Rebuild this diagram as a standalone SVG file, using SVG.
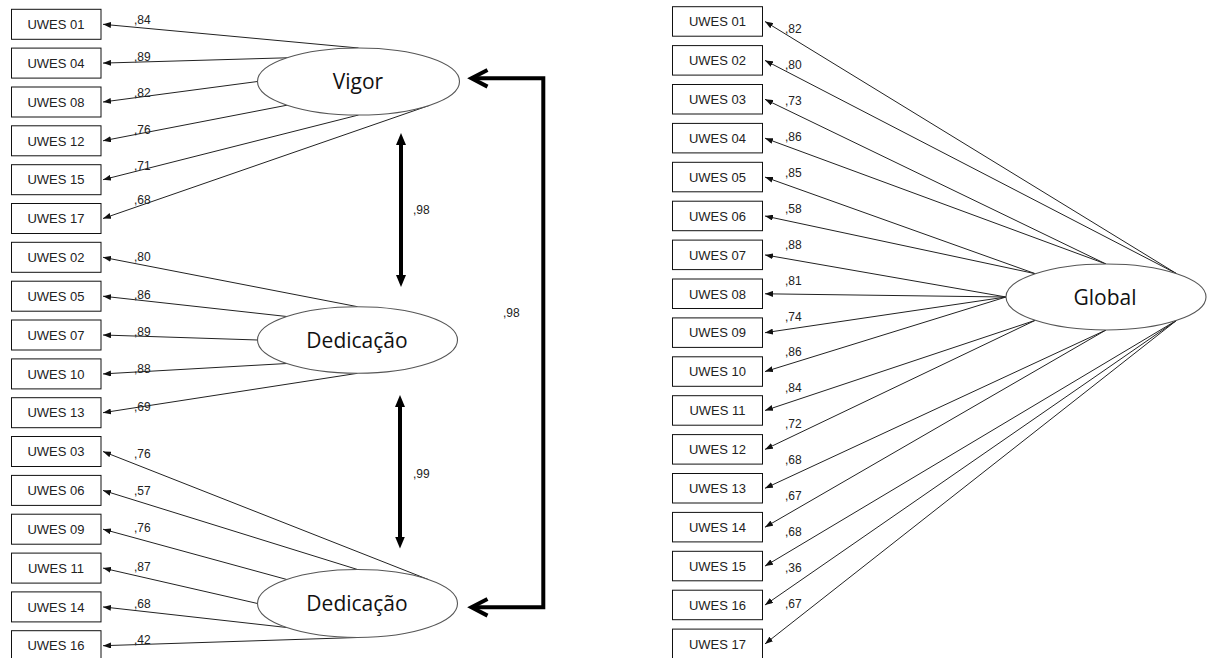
<svg xmlns="http://www.w3.org/2000/svg" width="1207" height="658" viewBox="0 0 1207 658">
<style>
.box{fill:#fff;stroke:#111;stroke-width:1}
.bt{font-family:"Liberation Sans",Arial,sans-serif;font-size:13px;fill:#222;text-anchor:middle}
.lb{font-family:"Liberation Sans",Arial,sans-serif;font-size:12px;fill:#222}
.el{fill:#fff;stroke:#555;stroke-width:1.1}
.et{font-family:"Open Sans","Noto Sans",sans-serif;font-size:21px;fill:#111;text-anchor:middle}
.c{stroke:#222;stroke-width:1;fill:none;marker-end:url(#a)}
.th{stroke:#000;stroke-width:4;fill:none}
.dbl{stroke:#000;stroke-width:4;marker-start:url(#t);marker-end:url(#t)}
</style>
<defs>
<marker id="a" viewBox="0 0 8 6" refX="8" refY="3" markerWidth="8" markerHeight="6" orient="auto" markerUnits="userSpaceOnUse"><path d="M0,0 L8,3 L0,6 z" fill="#111"/></marker>
<marker id="t" viewBox="0 0 12 10" refX="2" refY="5" markerWidth="12" markerHeight="10" orient="auto-start-reverse" markerUnits="userSpaceOnUse"><path d="M0,0 L12,5 L0,10 z" fill="#000"/></marker>
</defs>
<rect width="1207" height="658" fill="#fff"/>

<g id="connectors">
<!-- Vigor -->
<line class="c" x1="358.5" y1="48" x2="103" y2="24.3"/>
<line class="c" x1="287" y1="57.8" x2="103" y2="63.1"/>
<line class="c" x1="257.5" y1="81.5" x2="103" y2="102"/>
<line class="c" x1="287" y1="105.2" x2="103" y2="140.8"/>
<line class="c" x1="358.5" y1="115" x2="103" y2="179.7"/>
<line class="c" x1="430" y1="105.2" x2="103" y2="218.5"/>
<!-- Dedicacao middle -->
<line class="c" x1="357.5" y1="306.7" x2="103" y2="257.3"/>
<line class="c" x1="286.8" y1="316.5" x2="103" y2="296.2"/>
<line class="c" x1="257.5" y1="340" x2="103" y2="335"/>
<line class="c" x1="286.8" y1="363.5" x2="103" y2="373.9"/>
<line class="c" x1="357.5" y1="373.3" x2="103" y2="412.7"/>
<!-- Dedicacao bottom -->
<line class="c" x1="428.2" y1="579.5" x2="103" y2="451.5"/>
<line class="c" x1="357.5" y1="569.5" x2="103" y2="490.4"/>
<line class="c" x1="286.8" y1="579.5" x2="103" y2="529.2"/>
<line class="c" x1="257.5" y1="603.5" x2="103" y2="568.1"/>
<line class="c" x1="286.8" y1="627.5" x2="103" y2="606.9"/>
<line class="c" x1="357.5" y1="637.5" x2="103" y2="645.7"/>
<!-- Global -->
<line class="c" x1="1176.7" y1="273.7" x2="765" y2="21.5"/>
<line class="c" x1="1176.7" y1="273.7" x2="765" y2="60.4"/>
<line class="c" x1="1106" y1="264" x2="765" y2="99.3"/>
<line class="c" x1="1106" y1="264" x2="765" y2="138.2"/>
<line class="c" x1="1035.3" y1="273.7" x2="765" y2="177.1"/>
<line class="c" x1="1035.3" y1="273.7" x2="765" y2="216"/>
<line class="c" x1="1006" y1="297" x2="765" y2="254.9"/>
<line class="c" x1="1006" y1="297" x2="765" y2="293.8"/>
<line class="c" x1="1006" y1="297" x2="765" y2="332.7"/>
<line class="c" x1="1006" y1="297" x2="765" y2="371.6"/>
<line class="c" x1="1035.3" y1="320.3" x2="765" y2="410.5"/>
<line class="c" x1="1035.3" y1="320.3" x2="765" y2="449.4"/>
<line class="c" x1="1106" y1="330" x2="765" y2="488.3"/>
<line class="c" x1="1106" y1="330" x2="765" y2="527.2"/>
<line class="c" x1="1176.7" y1="320.3" x2="765" y2="566.1"/>
<line class="c" x1="1176.7" y1="320.3" x2="765" y2="605"/>
<line class="c" x1="1176.7" y1="320.3" x2="765" y2="643.9"/>
<!-- correlations -->
<line class="dbl" x1="401" y1="143" x2="401" y2="277"/>
<line class="dbl" x1="400" y1="405" x2="400" y2="538.5"/>
<path class="th" d="M473,78.3 H543.3 V607.3 H473"/>
<polyline class="th" points="487.5,70 471.5,78.3 487.5,86.6"/>
<polyline class="th" points="487.5,599 471.5,607.3 487.5,615.6"/>
</g>

<g id="loadings-left">
<text class="lb" x="134" y="24">,84</text>
<text class="lb" x="134" y="61">,89</text>
<text class="lb" x="134" y="97">,82</text>
<text class="lb" x="134" y="134">,76</text>
<text class="lb" x="134" y="170">,71</text>
<text class="lb" x="134" y="204">,68</text>
<text class="lb" x="134" y="261">,80</text>
<text class="lb" x="134" y="299">,86</text>
<text class="lb" x="134" y="336">,89</text>
<text class="lb" x="134" y="373">,88</text>
<text class="lb" x="134" y="411">,69</text>
<text class="lb" x="134" y="458">,76</text>
<text class="lb" x="134" y="495">,57</text>
<text class="lb" x="134" y="532">,76</text>
<text class="lb" x="134" y="571">,87</text>
<text class="lb" x="134" y="608">,68</text>
<text class="lb" x="134" y="644">,42</text>
<text class="lb" x="413" y="214">,98</text>
<text class="lb" x="413" y="478">,99</text>
<text class="lb" x="503" y="317">,98</text>
</g>

<g id="loadings-right">
<text class="lb" x="785" y="33">,82</text>
<text class="lb" x="785" y="69">,80</text>
<text class="lb" x="785" y="105">,73</text>
<text class="lb" x="785" y="141">,86</text>
<text class="lb" x="785" y="177">,85</text>
<text class="lb" x="785" y="213">,58</text>
<text class="lb" x="785" y="249">,88</text>
<text class="lb" x="785" y="285">,81</text>
<text class="lb" x="785" y="321">,74</text>
<text class="lb" x="785" y="356">,86</text>
<text class="lb" x="785" y="392">,84</text>
<text class="lb" x="785" y="428">,72</text>
<text class="lb" x="785" y="464">,68</text>
<text class="lb" x="785" y="500">,67</text>
<text class="lb" x="785" y="536">,68</text>
<text class="lb" x="785" y="572">,36</text>
<text class="lb" x="785" y="608">,67</text>
</g>

<g id="L01"><rect class="box" x="11.5" y="9.3" width="89.5" height="30"/><text class="bt" x="56" y="29">UWES 01</text></g>
<g id="L04"><rect class="box" x="11.5" y="48.1" width="89.5" height="30"/><text class="bt" x="56" y="67.8">UWES 04</text></g>
<g id="L08"><rect class="box" x="11.5" y="87" width="89.5" height="30"/><text class="bt" x="56" y="106.7">UWES 08</text></g>
<g id="L12"><rect class="box" x="11.5" y="125.8" width="89.5" height="30"/><text class="bt" x="56" y="145.5">UWES 12</text></g>
<g id="L15"><rect class="box" x="11.5" y="164.7" width="89.5" height="30"/><text class="bt" x="56" y="184.4">UWES 15</text></g>
<g id="L17"><rect class="box" x="11.5" y="203.5" width="89.5" height="30"/><text class="bt" x="56" y="223.2">UWES 17</text></g>
<g id="L02"><rect class="box" x="11.5" y="242.3" width="89.5" height="30"/><text class="bt" x="56" y="262">UWES 02</text></g>
<g id="L05"><rect class="box" x="11.5" y="281.2" width="89.5" height="30"/><text class="bt" x="56" y="300.9">UWES 05</text></g>
<g id="L07"><rect class="box" x="11.5" y="320" width="89.5" height="30"/><text class="bt" x="56" y="339.7">UWES 07</text></g>
<g id="L10"><rect class="box" x="11.5" y="358.9" width="89.5" height="30"/><text class="bt" x="56" y="378.6">UWES 10</text></g>
<g id="L13"><rect class="box" x="11.5" y="397.7" width="89.5" height="30"/><text class="bt" x="56" y="417.4">UWES 13</text></g>
<g id="L03"><rect class="box" x="11.5" y="436.5" width="89.5" height="30"/><text class="bt" x="56" y="456.2">UWES 03</text></g>
<g id="L06"><rect class="box" x="11.5" y="475.4" width="89.5" height="30"/><text class="bt" x="56" y="495.1">UWES 06</text></g>
<g id="L09"><rect class="box" x="11.5" y="514.2" width="89.5" height="30"/><text class="bt" x="56" y="533.9">UWES 09</text></g>
<g id="L11"><rect class="box" x="11.5" y="553.1" width="89.5" height="30"/><text class="bt" x="56" y="572.8">UWES 11</text></g>
<g id="L14"><rect class="box" x="11.5" y="591.9" width="89.5" height="30"/><text class="bt" x="56" y="611.6">UWES 14</text></g>
<g id="L16"><rect class="box" x="11.5" y="630.7" width="89.5" height="30"/><text class="bt" x="56" y="650.4">UWES 16</text></g>

<g id="R01"><rect class="box" x="672.5" y="6.7" width="90" height="29.5"/><text class="bt" x="717.5" y="26.2">UWES 01</text></g>
<g id="R02"><rect class="box" x="672.5" y="45.6" width="90" height="29.5"/><text class="bt" x="717.5" y="65.1">UWES 02</text></g>
<g id="R03"><rect class="box" x="672.5" y="84.5" width="90" height="29.5"/><text class="bt" x="717.5" y="104">UWES 03</text></g>
<g id="R04"><rect class="box" x="672.5" y="123.4" width="90" height="29.5"/><text class="bt" x="717.5" y="142.9">UWES 04</text></g>
<g id="R05"><rect class="box" x="672.5" y="162.3" width="90" height="29.5"/><text class="bt" x="717.5" y="181.8">UWES 05</text></g>
<g id="R06"><rect class="box" x="672.5" y="201.2" width="90" height="29.5"/><text class="bt" x="717.5" y="220.7">UWES 06</text></g>
<g id="R07"><rect class="box" x="672.5" y="240.1" width="90" height="29.5"/><text class="bt" x="717.5" y="259.6">UWES 07</text></g>
<g id="R08"><rect class="box" x="672.5" y="279" width="90" height="29.5"/><text class="bt" x="717.5" y="298.5">UWES 08</text></g>
<g id="R09"><rect class="box" x="672.5" y="317.9" width="90" height="29.5"/><text class="bt" x="717.5" y="337.4">UWES 09</text></g>
<g id="R10"><rect class="box" x="672.5" y="356.8" width="90" height="29.5"/><text class="bt" x="717.5" y="376.3">UWES 10</text></g>
<g id="R11"><rect class="box" x="672.5" y="395.7" width="90" height="29.5"/><text class="bt" x="717.5" y="415.2">UWES 11</text></g>
<g id="R12"><rect class="box" x="672.5" y="434.6" width="90" height="29.5"/><text class="bt" x="717.5" y="454.1">UWES 12</text></g>
<g id="R13"><rect class="box" x="672.5" y="473.5" width="90" height="29.5"/><text class="bt" x="717.5" y="493">UWES 13</text></g>
<g id="R14"><rect class="box" x="672.5" y="512.4" width="90" height="29.5"/><text class="bt" x="717.5" y="531.9">UWES 14</text></g>
<g id="R15"><rect class="box" x="672.5" y="551.3" width="90" height="29.5"/><text class="bt" x="717.5" y="570.8">UWES 15</text></g>
<g id="R16"><rect class="box" x="672.5" y="590.2" width="90" height="29.5"/><text class="bt" x="717.5" y="609.7">UWES 16</text></g>
<g id="R17"><rect class="box" x="672.5" y="629.1" width="90" height="29.5"/><text class="bt" x="717.5" y="648.6">UWES 17</text></g>

<g id="vigor"><ellipse class="el" cx="358.5" cy="81.5" rx="101" ry="33.5"/><text class="et" x="358" y="89">Vigor</text></g>
<g id="dedicacao1"><ellipse class="el" cx="357.5" cy="340" rx="100" ry="33.3"/><text class="et" x="357" y="347.5">Dedicação</text></g>
<g id="dedicacao2"><ellipse class="el" cx="357.5" cy="603.5" rx="100" ry="34"/><text class="et" x="357" y="611">Dedicação</text></g>
<g id="global"><ellipse class="el" cx="1106" cy="297" rx="100" ry="33"/><text class="et" x="1105" y="304.5">Global</text></g>
</svg>
